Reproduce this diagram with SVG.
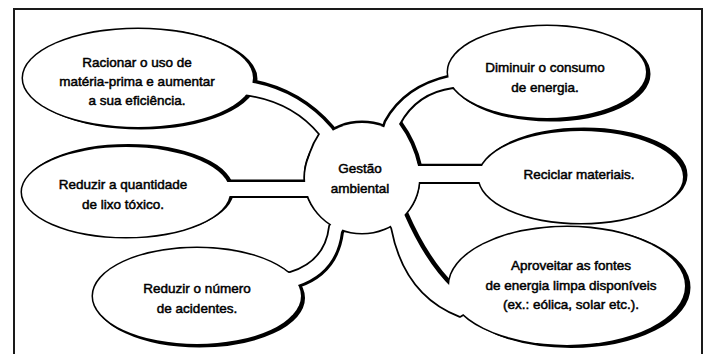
<svg xmlns="http://www.w3.org/2000/svg" width="709" height="354" viewBox="0 0 709 354">
<style>
.frame{fill:none;stroke:#1a1a1a;stroke-width:2}
.sh{fill:#000;stroke:#000;stroke-width:3}
.ol{fill:none;stroke:#000;stroke-width:3}
.fi{fill:#fff;stroke:none}
.edge{fill:none;stroke:#000;stroke-width:3.5;stroke-linejoin:round}
.t{font-family:"Liberation Sans",Arial,sans-serif;font-size:13.5px;fill:#000;text-anchor:middle;stroke:#000;stroke-width:0.5}
</style>
<rect width="709" height="354" fill="#fff"/>
<rect class="frame" x="14" y="9" width="688" height="360"/>

<g id="connectors">
  <path class="edge" style="stroke-width:7" d="M 232 80 L 248 82 Q 298 90 331 128 L 345 148"/>
  <path class="edge" d="M 232 95 L 243 94 Q 292 100 320 134 Q 308 152 306 175 L 320 178"/>
  <path class="edge" style="stroke-width:5" d="M 380 140 L 386 122 Q 405 87 450 77 L 465 76"/>
  <path class="edge" style="stroke-width:4" d="M 465 88 L 453 87 Q 416 92 399 124"/>
  <path class="edge" style="stroke-width:8" d="M 399 124 Q 413 143 418 166 L 400 170"/>
  <path class="edge" style="stroke-width:4.5" d="M 405 166 H 495"/>
  <path class="edge" style="stroke-width:4" d="M 405 182 H 495"/>
  <path class="edge" style="stroke-width:5" d="M 215 182 H 320"/>
  <path class="edge" style="stroke-width:4" d="M 215 196 H 320"/>
  <path class="edge" d="M 340 212 L 330 226 Q 326 262 290 273 L 276 272"/>
  <path class="edge" style="stroke-width:6" d="M 350 215 L 341 232 Q 336 272 298 285 L 285 285"/>
  <path class="edge" style="stroke-width:9" d="M 395 205 L 404 214 Q 425 262 452 288 L 465 288"/>
  <path class="edge" d="M 385 215 L 392 228 Q 405 295 460 316 L 470 310"/>
</g>

<g id="node-racionar">
  <ellipse class="sh" cx="141" cy="79" rx="115" ry="49"/>
  <ellipse class="ol" cx="138" cy="78" rx="115" ry="49"/>
  <ellipse class="fi" cx="138" cy="78" rx="115" ry="49"/>
  <text class="t" x="137" y="66.5">Racionar o uso de</text>
  <text class="t" x="137" y="85.5">matéria-prima e aumentar</text>
  <text class="t" x="137" y="104.5">a sua eficiência.</text>
</g>
<g id="node-reduzir-lixo">
  <ellipse class="sh" cx="128.5" cy="190.5" rx="104" ry="45"/>
  <ellipse class="ol" cx="126" cy="192" rx="104" ry="45"/>
  <ellipse class="fi" cx="126" cy="192" rx="104" ry="45"/>
  <text class="t" x="123" y="189">Reduzir a quantidade</text>
  <text class="t" x="123" y="209">de lixo tóxico.</text>
</g>
<g id="node-reduzir-acidentes">
  <ellipse class="sh" cx="199.5" cy="298" rx="104" ry="48"/>
  <ellipse class="ol" cx="197" cy="296" rx="104" ry="48"/>
  <ellipse class="fi" cx="197" cy="296" rx="104" ry="48"/>
  <text class="t" x="197" y="293">Reduzir o número</text>
  <text class="t" x="197" y="313">de acidentes.</text>
</g>
<g id="node-diminuir">
  <ellipse class="sh" cx="550" cy="74" rx="99" ry="46"/>
  <ellipse class="ol" cx="547" cy="72" rx="99" ry="46"/>
  <ellipse class="fi" cx="547" cy="72" rx="99" ry="46"/>
  <text class="t" x="545" y="71.5">Diminuir o consumo</text>
  <text class="t" x="545" y="92">de energia.</text>
</g>
<g id="node-reciclar">
  <ellipse class="sh" cx="584" cy="175" rx="102" ry="46"/>
  <ellipse class="ol" cx="581" cy="177" rx="102" ry="46"/>
  <ellipse class="fi" cx="581" cy="177" rx="102" ry="46"/>
  <text class="t" x="579" y="178.5">Reciclar materiais.</text>
</g>
<g id="node-aproveitar">
  <ellipse class="sh" cx="571" cy="287.5" rx="118" ry="59"/>
  <ellipse class="ol" cx="567" cy="286" rx="118" ry="59"/>
  <ellipse class="fi" cx="567" cy="286" rx="118" ry="59"/>
  <text class="t" x="571" y="269.5">Aproveitar as fontes</text>
  <text class="t" x="571" y="289.5">de energia limpa disponíveis</text>
  <text class="t" x="571" y="308.5">(ex.: eólica, solar etc.).</text>
</g>
<g id="node-gestao">
  <ellipse class="sh" cx="362" cy="177" rx="57" ry="55"/>
  <ellipse class="ol" cx="362" cy="178" rx="57" ry="55"/>
  <ellipse class="fi" cx="362" cy="178" rx="57" ry="55"/>
  <text class="t" x="360" y="172.5">Gestão</text>
  <text class="t" x="360" y="192.5">ambiental</text>
</g>

<g id="connector-joins" class="fi">
  <path d="M 232 80 L 248 82 Q 298 90 331 128 L 345 148 L 320 178 L 306 175 Q 308 152 320 134 Q 292 100 243 94 L 232 95 Z"/>
  <path d="M 380 140 L 386 122 Q 405 87 450 77 L 465 76 L 465 88 L 453 87 Q 416 92 399 124 Q 413 143 418 166 L 400 170 Z"/>
  <path d="M 405 166 H 495 V 182 H 405 Z"/>
  <path d="M 215 182 H 320 V 196 H 215 Z"/>
  <path d="M 340 212 L 330 226 Q 326 262 290 273 L 276 272 L 285 285 L 298 285 Q 336 272 341 232 L 350 215 Z"/>
  <path d="M 395 205 L 404 214 Q 425 262 452 288 L 465 288 L 470 310 L 460 316 Q 405 295 392 228 L 385 215 Z"/>
</g>
</svg>
